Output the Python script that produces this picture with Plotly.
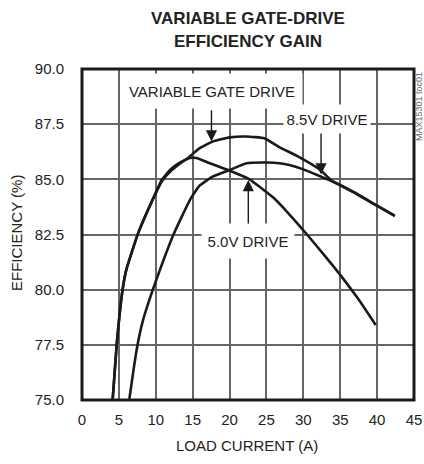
import plotly.graph_objects as go

# ---- data ----
x_5v = [4.15, 4.7, 5.5, 6.0, 7.6, 9.55, 10.8, 12.0, 13.2, 14.6, 15.5, 17.3, 19.8, 22.7, 26.0, 28.0, 30.5, 33.0, 35.0, 37.5, 39.8]
y_5v = [75.0, 77.5, 80.0, 80.9, 82.55, 84.06, 84.97, 85.45, 85.75, 85.97, 85.97, 85.73, 85.42, 85.0, 84.15, 83.45, 82.5, 81.5, 80.67, 79.55, 78.4]

x_85v = [6.4, 7.0, 7.5, 8.3, 9.6, 11.0, 12.4, 14.6, 15.9, 17.7, 20.0, 22.3, 25.0, 26.8, 28.1, 30.0, 32.2, 34.0, 37.1, 39.8, 42.4]
y_85v = [75.0, 76.4, 77.45, 78.65, 80.0, 81.3, 82.5, 84.05, 84.7, 85.12, 85.42, 85.73, 85.76, 85.73, 85.65, 85.45, 85.15, 84.9, 84.37, 83.84, 83.34]

x_var = [4.15, 4.7, 5.5, 6.0, 7.6, 9.55, 10.9, 12.1, 13.3, 14.3, 15.9, 17.7, 20.0, 22.3, 24.7, 26.8, 29.5, 32.2, 34.0, 37.1, 39.8, 42.4]
y_var = [75.0, 77.5, 80.0, 80.9, 82.55, 84.06, 84.95, 85.4, 85.72, 85.95, 86.4, 86.71, 86.9, 86.94, 86.86, 86.45, 86.0, 85.45, 84.9, 84.37, 83.84, 83.34]

x_ticks = [0, 5, 10, 15, 20, 25, 30, 35, 40, 45]
y_ticks = [75.0, 77.5, 80.0, 82.5, 85.0, 87.5, 90.0]
y_tick_labels = ["75.0", "77.5", "80.0", "82.5", "85.0", "87.5", "90.0"]

FONT = "Liberation Sans, Arial, sans-serif"

fig = go.Figure()
for xs, ys in [(x_5v, y_5v), (x_85v, y_85v), (x_var, y_var)]:
    fig.add_trace(go.Scatter(x=xs, y=ys, mode="lines",
                             line=dict(color="#1a1a1a", width=2.6, shape="spline", smoothing=0.4),
                             showlegend=False, hoverinfo="skip"))

fig.update_layout(
    template="none",
    width=424, height=464,
    margin=dict(l=82, r=10, t=69, b=64, autoexpand=False),
    paper_bgcolor="white", plot_bgcolor="white",
    font=dict(family=FONT, size=15, color="#222"),
    showlegend=False,
)
fig.update_xaxes(range=[0, 45], tickvals=x_ticks, ticktext=[str(v) for v in x_ticks],
                 showgrid=True, gridcolor="#666666", gridwidth=2, showline=False,
                 ticks="outside", ticklen=6, tickcolor="rgba(0,0,0,0)", zeroline=False, automargin=False,
                 tickfont=dict(size=15, color="#222"))
fig.update_yaxes(range=[75, 90], tickvals=y_ticks, ticktext=y_tick_labels,
                 showgrid=True, gridcolor="#666666", gridwidth=2, showline=False,
                 ticks="outside", ticklen=14, tickcolor="rgba(0,0,0,0)", zeroline=False, automargin=False,
                 tickfont=dict(size=15, color="#222"))

shapes = [dict(type="rect", xref="paper", yref="paper", x0=0, x1=1, y0=0, y1=1,
               line=dict(color="#1a1a1a", width=3), fillcolor="rgba(0,0,0,0)", layer="above")]
fig.update_layout(shapes=shapes)

def px_x(p):
    return (p - 82) / 332.0

def px_y(p):
    return (400 - p) / 331.0

ann = []
# titles
ann.append(dict(text="<b>VARIABLE GATE-DRIVE</b>", x=px_x(247.5), y=px_y(18.5), xref="paper", yref="paper",
                showarrow=False, font=dict(size=17, family=FONT, color="#222"), xanchor="center", yanchor="middle"))
ann.append(dict(text="<b>EFFICIENCY GAIN</b>", x=px_x(247.5), y=px_y(42), xref="paper", yref="paper",
                showarrow=False, font=dict(size=17, family=FONT, color="#222"), xanchor="center", yanchor="middle"))
# axis titles
ann.append(dict(text="LOAD CURRENT (A)", x=px_x(247), y=px_y(445), xref="paper", yref="paper",
                showarrow=False, font=dict(size=15, family=FONT, color="#222"), xanchor="center", yanchor="middle"))
ann.append(dict(text="EFFICIENCY (%)", x=px_x(16), y=px_y(233), xref="paper", yref="paper",
                showarrow=False, textangle=-90, font=dict(size=15, family=FONT, color="#222"),
                xanchor="center", yanchor="middle"))
ann.append(dict(text="MAX15301 toc01", x=px_x(419), y=px_y(107), xref="paper", yref="paper",
                showarrow=False, textangle=-90, font=dict(size=9, family=FONT, color="#666"),
                xanchor="center", yanchor="middle"))
# curve labels with white boxes
ann.append(dict(text="VARIABLE GATE DRIVE", x=px_x(212), y=px_y(91), xref="paper", yref="paper",
                showarrow=False, bgcolor="white", width=178, height=32,
                font=dict(size=15, family=FONT, color="#222"), xanchor="center", yanchor="middle"))
ann.append(dict(text="8.5V DRIVE", x=px_x(327), y=px_y(118.5), xref="paper", yref="paper",
                showarrow=False, bgcolor="white", width=84, height=26,
                font=dict(size=15, family=FONT, color="#222"), xanchor="center", yanchor="middle"))
ann.append(dict(text="5.0V DRIVE", x=px_x(248), y=px_y(241), xref="paper", yref="paper",
                showarrow=False, bgcolor="white", width=90, height=32,
                font=dict(size=15, family=FONT, color="#222"), xanchor="center", yanchor="middle"))
# arrows
for (xt, yt, yb) in [(17.55, 86.72, 88.2), (32.4, 85.22, 87.15), (22.54, 84.97, 82.93)]:
    ann.append(dict(text="", x=xt, y=yt, ax=xt, ay=yb, xref="x", yref="y", axref="x", ayref="y",
                    showarrow=True, arrowhead=2, arrowsize=1.6, arrowwidth=1.4, arrowcolor="#1a1a1a",
                    standoff=0, startstandoff=0))
fig.update_layout(annotations=ann)

fig.write_html("out.html", config={"displayModeBar": False},
               post_script="document.body.style.margin='0';")
